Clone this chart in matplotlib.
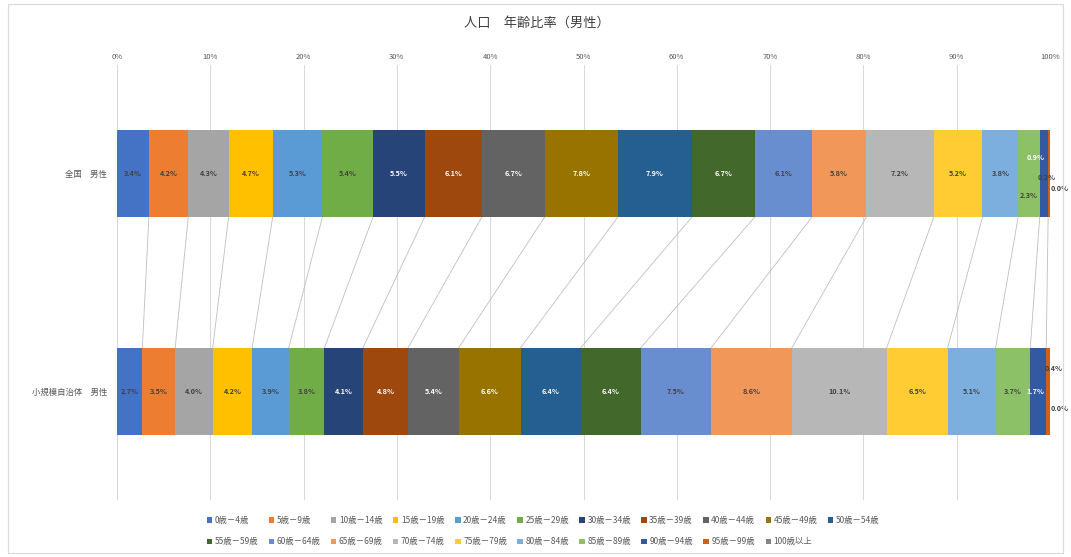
import matplotlib
matplotlib.use("Agg")
import matplotlib.pyplot as plt
from matplotlib.patches import Rectangle
import numpy as np

plt.rcParams['font.family'] = ['Noto Sans CJK JP', 'DejaVu Sans']

title = "人口　年齢比率（男性）"
categories = ["全国　男性", "小規模自治体　男性"]
age_groups = ["0歳－4歳", "5歳－9歳", "10歳－14歳", "15歳－19歳", "20歳－24歳",
              "25歳－29歳", "30歳－34歳", "35歳－39歳", "40歳－44歳", "45歳－49歳",
              "50歳－54歳", "55歳－59歳", "60歳－64歳", "65歳－69歳", "70歳－74歳",
              "75歳－79歳", "80歳－84歳", "85歳－89歳", "90歳－94歳", "95歳－99歳",
              "100歳以上"]

# percentage of males in each age group
national = [3.4, 4.2, 4.3, 4.7, 5.3, 5.4, 5.5, 6.1, 6.7, 7.8, 7.9,
            6.7, 6.1, 5.8, 7.2, 5.2, 3.8, 2.3, 0.9, 0.2, 0.0]
small_town = [2.7, 3.5, 4.0, 4.2, 3.9, 3.8, 4.1, 4.8, 5.4, 6.6, 6.4,
              6.4, 7.5, 8.6, 10.1, 6.5, 5.1, 3.7, 1.7, 0.4, 0.0]

colors = ["#4472C4", "#ED7D31", "#A5A5A5", "#FFC000", "#5B9BD5", "#70AD47",
          "#264478", "#9E480E", "#636363", "#997300", "#255E91", "#43682B",
          "#698ED0", "#F1975A", "#B7B7B7", "#FFCD33", "#7CAFDD", "#8CC168",
          "#335AA1", "#D26012", "#848484"]
white_text = {6, 7, 8, 9, 10, 11, 18}

# nudges (pixels) for labels of thin segments: (row, series) -> (dx, dy)
label_nudge = {(0, 17): (0, -22), (0, 18): (-8, 16), (0, 19): (-2, -4), (0, 20): (10, -15),
               (1, 18): (-3, 0), (1, 19): (6, 23), (1, 20): (10, -17)}

W, H = 1071, 557
fig = plt.figure(figsize=(W / 100, H / 100), dpi=100)
ax = fig.add_axes([117 / W, 1 - 500 / H, (1050 - 117) / W, (500 - 65) / H])

rows = [national, small_town]
data = np.array(rows, dtype=float)
shares = data / data.sum(axis=1, keepdims=True) * 100
lefts = np.cumsum(shares, axis=1) - shares
ypos = np.arange(len(categories))
bar_h = 0.4

for j, (name, col) in enumerate(zip(age_groups, colors)):
    ax.barh(ypos, shares[:, j], left=lefts[:, j], height=bar_h, color=col,
            linewidth=0, label=name, zorder=3)

# data labels
for i in range(len(rows)):
    for j in range(len(age_groups)):
        cx = lefts[i, j] + shares[i, j] / 2
        dx, dy = label_nudge.get((i, j), (0, 0))
        ax.annotate(f"{rows[i][j]:.1f}%", (cx, ypos[i]),
                    xytext=(dx * 0.72, dy * 0.72), textcoords="offset points",
                    ha="center", va="center", fontsize=5.2, fontweight="bold",
                    color="white" if j in white_text else "#404040", zorder=5,
                    annotation_clip=False)

# series lines between the two bars
ends = lefts + shares
for j in range(len(age_groups)):
    ax.plot([ends[0, j], ends[1, j]], [ypos[0] + bar_h / 2, ypos[1] - bar_h / 2],
            color="#BFBFBF", linewidth=0.6, zorder=2)

ax.set_xlim(0, 100)
ax.set_ylim(1.5, -0.5)
ax.set_xticks(np.arange(0, 101, 10))
ax.set_xticklabels([f"{t}%" for t in range(0, 101, 10)])
ax.xaxis.tick_top()
ax.tick_params(axis="x", length=0, labelsize=5.5, labelcolor="#595959", pad=3)
ax.set_yticks(ypos)
ax.set_yticklabels(categories)
ax.tick_params(axis="y", length=0, labelsize=6, labelcolor="#595959", pad=7)
ax.grid(axis="x", color="#D9D9D9", linewidth=0.75, zorder=0)
for s in ax.spines.values():
    s.set_visible(False)

fig.text(537 / W, 1 - 23 / H, title, ha="center", va="center",
         fontsize=9.5, color="#404040")

# legend: two rows, filled row by row
handles, labels = ax.get_legend_handles_labels()
n_top = 11
order = []
for k in range(n_top):
    order.append(k)
    if n_top + k < len(handles):
        order.append(n_top + k)
leg = fig.legend([handles[k] for k in order], [labels[k] for k in order],
                 ncol=n_top, loc="center", bbox_to_anchor=(543 / W, 1 - 531 / H),
                 frameon=False, fontsize=6, handlelength=0.65, handleheight=0.65,
                 handletextpad=0.3, columnspacing=1.25, labelspacing=1.5)
for t in leg.get_texts():
    t.set_color("#595959")

# chart area border
fig.patches.append(Rectangle((8 / W, 4 / H), 1 - 16 / W, 1 - 8 / H,
                             transform=fig.transFigure, fill=False,
                             edgecolor="#D9D9D9", linewidth=0.8))

fig.savefig("out.png", dpi=100)
